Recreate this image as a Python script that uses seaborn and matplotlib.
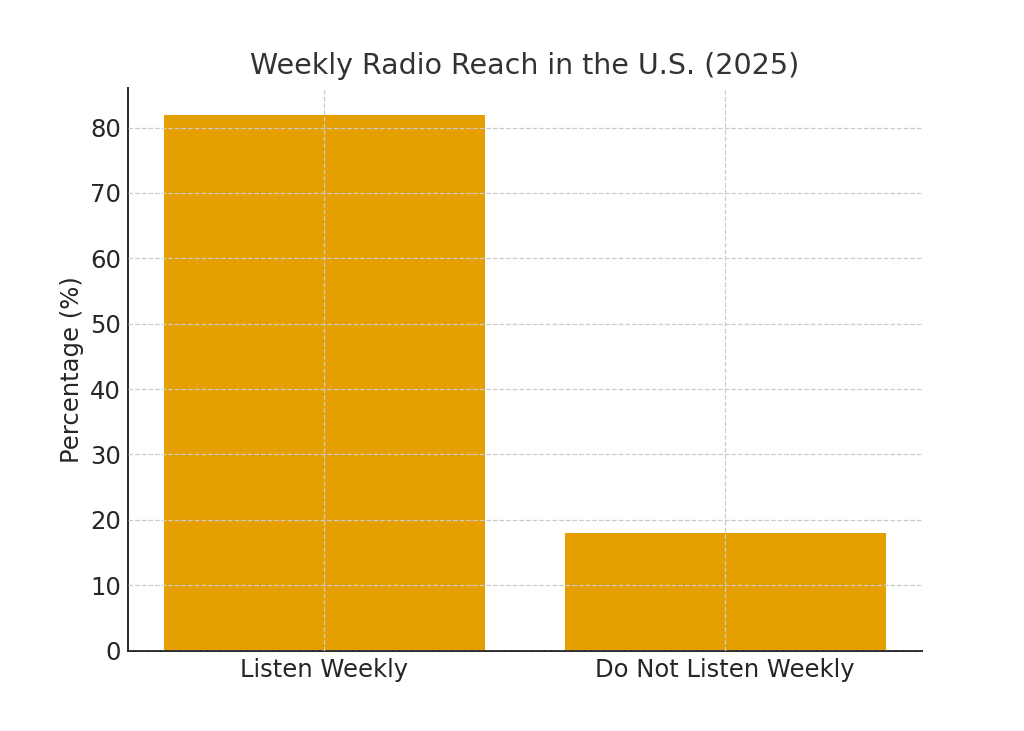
"""Weekly radio reach bar chart."""

import matplotlib
matplotlib.use("Agg")
import matplotlib.pyplot as plt
import pandas as pd
import seaborn as sns

categories = ["Listen Weekly", "Do Not Listen Weekly"]
percentages = [82, 18]
bar_color = "#E69F00"


def main():
    sns.set_style("white")
    plt.rcParams["font.family"] = ["DejaVu Sans"]

    df = pd.DataFrame({"category": categories, "pct": percentages})

    fig, ax = plt.subplots(figsize=(10.24, 7.31), dpi=100)
    sns.barplot(data=df, x="category", y="pct", color=bar_color,
                saturation=1, width=0.8, linewidth=0, ax=ax)

    ax.set_title("Weekly Radio Reach in the U.S. (2025)", fontsize=20.5,
                 color="#333333", pad=10)
    ax.set_xlabel("")
    ax.set_ylabel("Percentage (%)", fontsize=17.5, color="#262626")
    ax.tick_params(axis="both", labelsize=17.5, direction="in",
                   colors="#262626", length=4, pad=5)
    ax.set_ylim(0, 82 * 1.05)
    ax.set_xlim(-0.49, 1.49)

    ax.grid(True, linestyle="--", color="#cccccc", linewidth=0.9)
    ax.set_axisbelow(False)
    sns.despine(ax=ax)
    for side in ("left", "bottom"):
        ax.spines[side].set_color("#262626")
        ax.spines[side].set_linewidth(1.4)

    fig.subplots_adjust(left=0.125, right=0.9, top=0.88, bottom=0.11)
    fig.savefig("out.png", dpi=100)


if __name__ == "__main__":
    main()
